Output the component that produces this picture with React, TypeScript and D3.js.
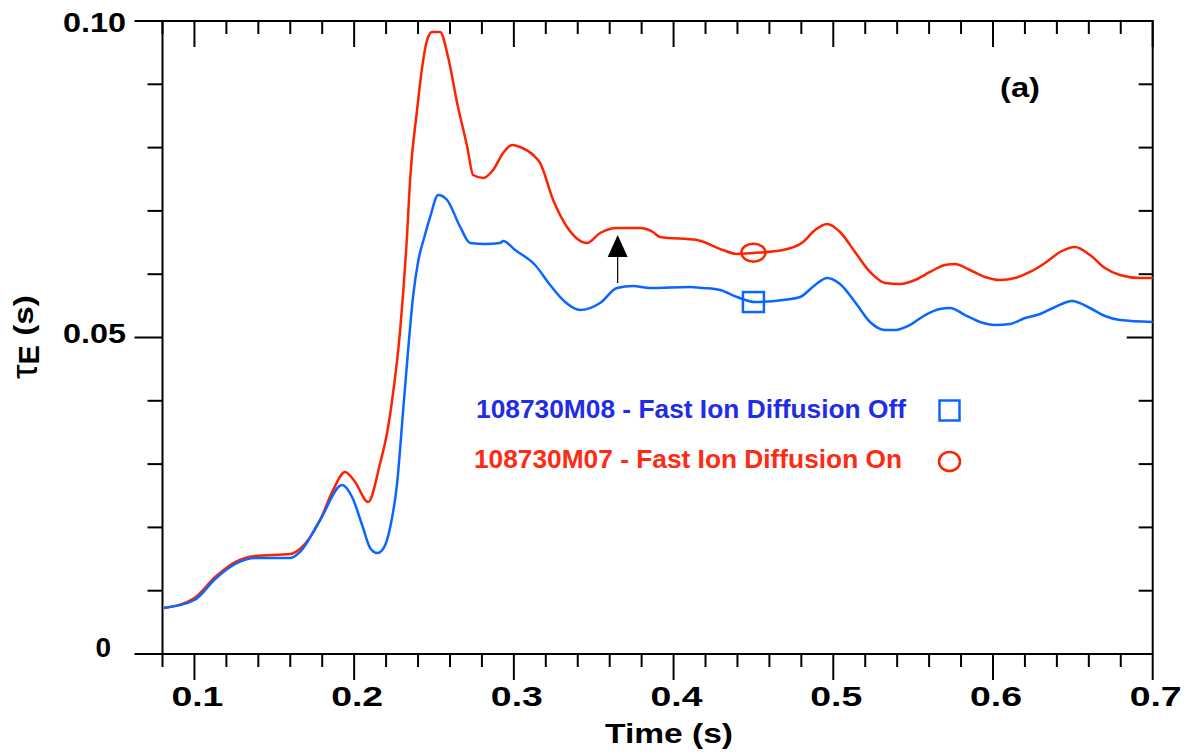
import React from "react";
import * as d3 from "d3";

// ---- data ----
const offT = [0.081,0.1,0.113,0.1255,0.138,0.16,0.166,0.1787,0.1925,0.1987,0.205,0.21,0.2144,0.2188,0.2226,0.2269,0.2307,0.2338,0.2369,0.2401,0.2438,0.2476,0.2526,0.2582,0.2664,0.2726,0.282,0.2914,0.2933,0.3008,0.3133,0.3227,0.3321,0.3415,0.354,0.3646,0.3746,0.3853,0.4103,0.4184,0.4291,0.4397,0.451,0.4685,0.4792,0.4886,0.4961,0.5042,0.5136,0.523,0.5324,0.5387,0.5481,0.5575,0.5669,0.5731,0.5825,0.5919,0.6013,0.6107,0.6201,0.6295,0.6389,0.6495,0.6607,0.6701,0.6795,0.7];
const offV = [0.00727,0.00853,0.01185,0.01422,0.01517,0.01517,0.01611,0.02117,0.0267,0.0248,0.02038,0.01675,0.01596,0.0169,0.02006,0.02701,0.03855,0.04803,0.05650,0.06206,0.06572,0.06904,0.07251,0.07172,0.06746,0.06493,0.06477,0.06493,0.06524,0.06382,0.06145,0.05829,0.05561,0.05434,0.05545,0.05782,0.05814,0.05782,0.05798,0.05782,0.0575,0.0564,0.05561,0.05592,0.0564,0.05829,0.0594,0.05845,0.05561,0.05245,0.05118,0.05118,0.05198,0.05355,0.0545,0.05466,0.05355,0.05245,0.05198,0.05213,0.05308,0.05371,0.05482,0.05577,0.05466,0.0534,0.05276,0.05245];

const onT = [0.081,0.1,0.113,0.1255,0.138,0.16,0.166,0.1787,0.1868,0.1943,0.2006,0.2087,0.2163,0.2206,0.2238,0.2288,0.2332,0.235,0.2394,0.2426,0.2457,0.2488,0.2538,0.2588,0.2645,0.2708,0.2745,0.2808,0.287,0.2933,0.2989,0.3039,0.3121,0.3164,0.3246,0.3333,0.3458,0.354,0.3646,0.379,0.3871,0.3915,0.4147,0.4309,0.4397,0.4497,0.4685,0.4811,0.4886,0.4961,0.5042,0.5136,0.523,0.5324,0.5418,0.5512,0.5606,0.57,0.5762,0.5856,0.595,0.6044,0.6138,0.6232,0.6326,0.642,0.6514,0.6607,0.6701,0.6795,0.6921,0.7];
const onV = [0.00727,0.00885,0.01216,0.01453,0.01548,0.0158,0.01659,0.02117,0.0259,0.02875,0.02717,0.02401,0.03017,0.03491,0.04013,0.05118,0.06651,0.07488,0.08594,0.09273,0.097,0.09826,0.09826,0.09431,0.08705,0.0801,0.07567,0.0752,0.07646,0.07915,0.08041,0.0801,0.07883,0.07757,0.07172,0.06746,0.06493,0.06651,0.0673,0.0673,0.06667,0.06588,0.0654,0.06382,0.06319,0.06335,0.06382,0.06509,0.06698,0.06793,0.06667,0.06351,0.06035,0.05861,0.05845,0.05908,0.06035,0.06145,0.06161,0.06066,0.05956,0.05908,0.0594,0.06035,0.06177,0.06351,0.0643,0.06303,0.06098,0.05987,0.0594,0.0594];

const seriesLabels = ["108730M08 - Fast Ion Diffusion Off", "108730M07 - Fast Ion Diffusion On"];
const xTickValues = [0.1, 0.2, 0.3, 0.4, 0.5, 0.6, 0.7];
const xTickLabels = ["0.1", "0.2", "0.3", "0.4", "0.5", "0.6", "0.7"];
const yTickValues = [0, 0.05, 0.1];
const yTickLabels = ["0", "0.05", "0.10"];
const markerT = 0.45;
const markerOffV = 0.0556;
const markerOnV = 0.0634;
const arrowT = 0.365;
const arrowFromV = 0.0586;
const arrowBaseV = 0.0627;
const arrowTipV = 0.0662;

const BLUE = "#0a66ff";
const RED = "#ff2200";
const BLUE_TEXT = "#1f2ce8";
const RED_TEXT = "#ff2a12";
const FONT = "'Liberation Sans', Arial, Helvetica, sans-serif";

export default function App() {
  const x = d3.scaleLinear().domain([0.08, 0.7]).range([162.5, 1152.7]);
  const y = d3.scaleLinear().domain([0, 0.1]).range([654, 21]);
  const line = d3
    .line<[number, number]>()
    .x((d) => x(d[0]))
    .y((d) => y(d[1]))
    .curve(d3.curveMonotoneX);

  const offData = offT.map((t, i) => [t, offV[i]] as [number, number]);
  const onData = onT.map((t, i) => [t, onV[i]] as [number, number]);

  const xMinor = d3.range(0, 32).map((i) => +(0.08 + i * 0.02).toFixed(2));
  const yMinor = d3.range(0, 11).map((i) => +(i * 0.01).toFixed(2));
  const isMajorX = (v: number) => Math.abs(v * 10 - Math.round(v * 10)) < 1e-6;
  const isMajorY = (v: number) => Math.abs(v * 20 - Math.round(v * 20)) < 1e-6;

  const x0 = x(0.08), x1 = x(0.7), y0 = y(0), y1 = y(0.1);
  const sw = 2;

  const ax = x(arrowT);

  return (
    <svg width={1196} height={756} style={{ position: "absolute", left: 0, top: 0, background: "#fff" }} fontFamily={FONT}>
      <rect width={1196} height={756} fill="#fff" />
      {/* frame */}
      <rect x={x0} y={y1} width={x1 - x0} height={y0 - y1} fill="none" stroke="#000" strokeWidth={sw} />
      {/* bottom ticks (outward) and top ticks (inward) */}
      {xMinor.map((v) => {
        const L = isMajorX(v) ? 26 : 13;
        return (
          <g key={"xt" + v}>
            <line x1={x(v)} x2={x(v)} y1={y0} y2={y0 + L} stroke="#000" strokeWidth={sw} />
            <line x1={x(v)} x2={x(v)} y1={y1} y2={y1 + L} stroke="#000" strokeWidth={sw} />
          </g>
        );
      })}
      {/* left ticks (outward) and right ticks (inward) */}
      {yMinor.map((v) => {
        const L = isMajorY(v) ? 28 : 15;
        const R = isMajorY(v) ? 26 : 14;
        return (
          <g key={"yt" + v}>
            <line x1={x0 - L} x2={x0} y1={y(v)} y2={y(v)} stroke="#000" strokeWidth={sw} />
            <line x1={x1 - R} x2={x1} y1={y(v)} y2={y(v)} stroke="#000" strokeWidth={sw} />
          </g>
        );
      })}
      {/* x tick labels */}
      {xTickValues.map((v, i) => (
        <text key={"xl" + v} x={x(v) + 3} y={706} textAnchor="middle" fontSize={28} fontWeight="bold" textLength={52} lengthAdjust="spacingAndGlyphs">
          {xTickLabels[i]}
        </text>
      ))}
      {/* y tick labels */}
      {yTickValues.map((v, i) => {
        const lab = yTickLabels[i];
        const base = Math.max(y(v) + 5, 32);
        return lab.length > 1 ? (
          <text key={"yl" + v} x={126} y={base} textAnchor="end" fontSize={28} fontWeight="bold" textLength={63} lengthAdjust="spacingAndGlyphs">
            {lab}
          </text>
        ) : (
          <text key={"yl" + v} x={111} y={y(v) + 3} textAnchor="end" fontSize={28} fontWeight="bold">
            {lab}
          </text>
        );
      })}
      {/* axis titles */}
      <text x={669} y={743} textAnchor="middle" fontSize={27} fontWeight="bold" textLength={128} lengthAdjust="spacingAndGlyphs">
        Time (s)
      </text>
      <text transform="translate(37,379) rotate(-90)" fontSize={28} fontWeight="bold">
        <tspan fontSize={37} fontWeight="normal">τ</tspan>
        <tspan fontSize={29} dy={2}>E</tspan>
        <tspan fontSize={28} dy={-6} textLength={50} lengthAdjust="spacingAndGlyphs"> (s)</tspan>
      </text>
      <text x={1000} y={97} fontSize={27} fontWeight="bold" textLength={40} lengthAdjust="spacingAndGlyphs">
        (a)
      </text>

      {/* curves */}
      <path d={line(onData) || ""} fill="none" stroke={RED} strokeWidth={2.5} strokeLinejoin="round" />
      <path d={line(offData) || ""} fill="none" stroke={BLUE} strokeWidth={2.5} strokeLinejoin="round" />

      {/* markers on curves */}
      <ellipse cx={x(markerT)} cy={y(markerOnV)} rx={12} ry={9} fill="none" stroke={RED} strokeWidth={2.5} />
      <rect x={x(markerT) - 10.5} y={y(markerOffV) - 10} width={21} height={20} fill="none" stroke={BLUE} strokeWidth={2.5} />

      {/* arrow */}
      <line x1={ax} x2={ax} y1={y(arrowFromV)} y2={y(arrowBaseV)} stroke="#000" strokeWidth={1.2} />
      <polygon points={`${ax},${y(arrowTipV)} ${ax - 10},${y(arrowBaseV)} ${ax + 10},${y(arrowBaseV)}`} fill="#000" />

      {/* legend */}
      <text x={476} y={418} fontSize={26} fontWeight="bold" fill={BLUE_TEXT} textLength={430} lengthAdjust="spacingAndGlyphs">{seriesLabels[0]}</text>
      <rect x={939.5} y={400.5} width={20} height={20} fill="none" stroke={BLUE} strokeWidth={2.5} />
      <text x={474} y={468} fontSize={26} fontWeight="bold" fill={RED_TEXT} textLength={428} lengthAdjust="spacingAndGlyphs">{seriesLabels[1]}</text>
      <ellipse cx={949.5} cy={461.5} rx={10.5} ry={9.5} fill="none" stroke={RED} strokeWidth={2.5} />
    </svg>
  );
}
